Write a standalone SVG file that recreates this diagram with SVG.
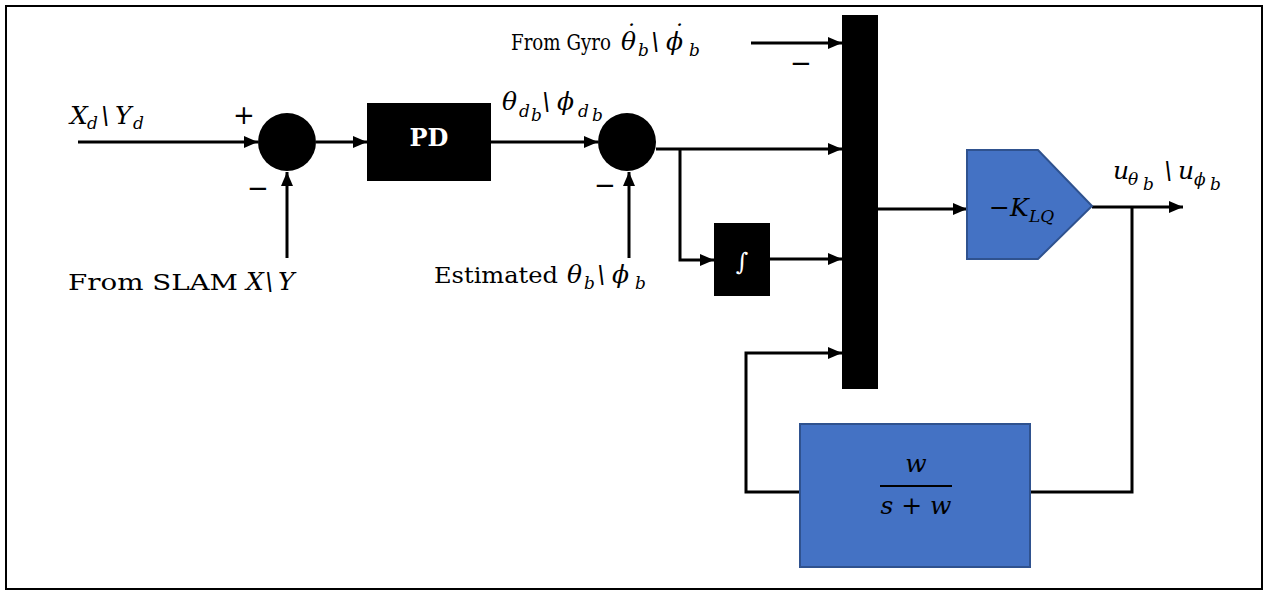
<svg xmlns="http://www.w3.org/2000/svg" width="1267" height="592" viewBox="0 0 1267 592">
<style>
.ln{fill:none;stroke:#000;stroke-width:3}
.arr{marker-end:url(#ah)}
.t{font-family:'DejaVu Serif','Liberation Serif',serif;font-size:22px;fill:#000}
.m{font-family:'DejaVu Serif','Liberation Serif',serif;font-style:italic;font-size:25px;fill:#000}
.s{font-family:'DejaVu Serif','Liberation Serif',serif;font-style:italic;font-size:17px;fill:#000}
.pm{font-family:'DejaVu Sans','Liberation Sans',sans-serif;font-size:26px;fill:#000}
.blue{fill:#4472C4;stroke:#2F528F;stroke-width:2}
</style>
<defs>
<marker id="ah" markerWidth="14" markerHeight="12" refX="14" refY="6" orient="auto" markerUnits="userSpaceOnUse">
<path d="M0,0 L14,6 L0,12 Z" fill="#000"/>
</marker>
</defs>
<rect x="6" y="6" width="1256" height="583" fill="#fff" stroke="#000" stroke-width="2"/>

<g id="connectors">
<path class="ln arr" d="M78,142 H258"/>
<path class="ln arr" d="M287,258 V172"/>
<path class="ln arr" d="M316,142 H367"/>
<path class="ln arr" d="M491,142 H598"/>
<path class="ln arr" d="M629,258 V172"/>
<path class="ln arr" d="M656,149 H842"/>
<path class="ln arr" d="M680,149 V260 H714"/>
<path class="ln arr" d="M770,259 H842"/>
<path class="ln arr" d="M751,43 H842"/>
<path class="ln arr" d="M878,209 H967"/>
<path class="ln arr" d="M1092,207 H1183"/>
<path class="ln" d="M1132,207 V492 H1030"/>
<path class="ln arr" d="M800,492 H746 V353 H842"/>
</g>

<g id="sum1">
<circle cx="287" cy="142" r="29" fill="#000"/>
<text class="pm" x="233" y="124">+</text>
<text class="pm" x="247" y="197">−</text>
</g>

<g id="input-label">
<text class="m" x="70" y="124">X</text>
<text class="s" x="87" y="129">d</text>
<text class="m" x="101" y="124">&#92;</text>
<text class="m" x="115" y="124">Y</text>
<text class="s" x="133" y="129">d</text>
</g>

<g id="slam-label">
<text class="t" x="68" y="290" textLength="170" lengthAdjust="spacingAndGlyphs">From SLAM</text>
<text class="m" x="246" y="290">X</text>
<text class="m" x="265" y="290">&#92;</text>
<text class="m" x="278" y="290">Y</text>
</g>

<g id="pd">
<rect x="367" y="103" width="124" height="78" fill="#000"/>
<text x="429" y="146" text-anchor="middle" font-family="'DejaVu Serif','Liberation Serif',serif" font-weight="bold" font-size="24" fill="#fff">PD</text>
</g>

<g id="pd-label">
<text class="m" x="502" y="110">θ</text>
<text class="s" x="519" y="117">d</text>
<text class="s" x="531" y="121">b</text>
<text class="m" x="542" y="110">&#92;</text>
<text class="m" x="557" y="110">ϕ</text>
<text class="s" x="578" y="117">d</text>
<text class="s" x="592" y="121">b</text>
</g>

<g id="sum2">
<circle cx="627" cy="142" r="29" fill="#000"/>
<text class="pm" x="594" y="194">−</text>
</g>

<g id="estimated-label">
<text class="t" x="434" y="283" textLength="124" lengthAdjust="spacingAndGlyphs">Estimated</text>
<text class="m" x="567" y="283">θ</text>
<text class="s" x="584" y="289">b</text>
<text class="m" x="597" y="283">&#92;</text>
<text class="m" x="612" y="283">ϕ</text>
<text class="s" x="635" y="289">b</text>
</g>

<g id="integrator">
<rect x="714" y="223" width="56" height="73" fill="#000"/>
<text x="742" y="270" text-anchor="middle" font-family="'DejaVu Serif',serif" font-size="24" fill="#fff">∫</text>
</g>

<g id="gyro-label">
<text class="t" x="511" y="50" textLength="100" lengthAdjust="spacingAndGlyphs">From Gyro</text>
<text class="m" x="621" y="50">θ<tspan x="623" y="42">˙</tspan></text>
<text class="s" x="638" y="56">b</text>
<text class="m" x="651" y="50">&#92;</text>
<text class="m" x="666" y="50">ϕ<tspan x="671" y="42">˙</tspan></text>
<text class="s" x="689" y="56">b</text>
<text class="pm" x="790" y="72">−</text>
</g>

<g id="mux">
<rect x="842" y="15" width="36" height="374" fill="#000"/>
</g>

<g id="klq">
<path class="blue" d="M967,150 H1038 L1092,206 L1038,259 H967 Z"/>
<text class="m" x="989" y="216">−K</text>
<text class="s" x="1029" y="222">LQ</text>
</g>

<g id="output-label">
<text class="m" x="1113" y="179">u</text>
<text class="s" x="1128" y="185">θ</text>
<text class="s" x="1143" y="190">b</text>
<text class="m" x="1164" y="179">&#92;</text>
<text class="m" x="1178" y="179">u</text>
<text class="s" x="1194" y="185">ϕ</text>
<text class="s" x="1210" y="190">b</text>
</g>

<g id="filter">
<rect class="blue" x="800" y="424" width="230" height="143"/>
<text class="m" x="916" y="472" text-anchor="middle">w</text>
<line x1="880" y1="486" x2="952" y2="486" stroke="#000" stroke-width="2"/>
<text class="m" x="916" y="514" text-anchor="middle">s + w</text>
</g>
</svg>
